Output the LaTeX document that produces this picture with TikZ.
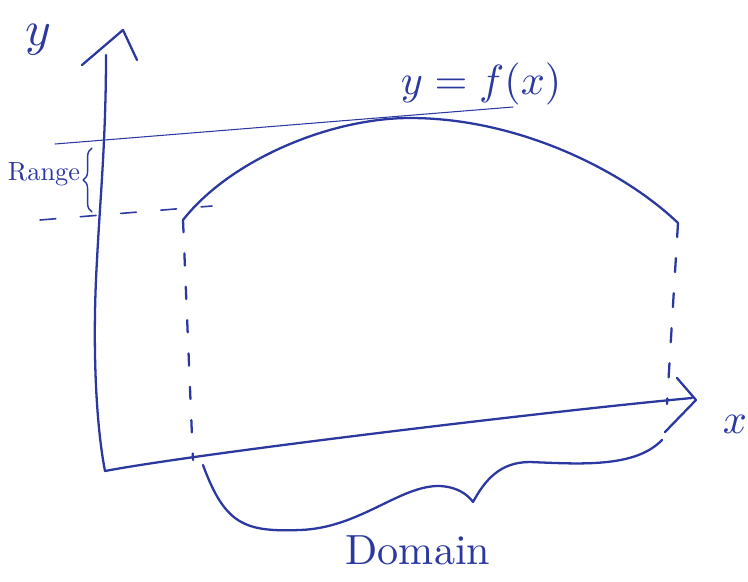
\documentclass[tikz,border=0pt]{standalone}
\usetikzlibrary{decorations.pathreplacing}
\usetikzlibrary{positioning}
\definecolor{ink}{RGB}{42,56,160}

\begin{document}
\begin{tikzpicture}[x=0.02cm,y=-0.02cm,ink,line width=1.3pt,line cap=round,line join=round]
    \useasboundingbox (0,0) rectangle (748,582);

    \node[scale=2.8] (ylab) at (38,40) {$y$};
    \node[scale=2.4] (xlab) at (735,424) {$x$};
    \node[scale=2.4] (fx) at (481,84) {$y=f(x)$};
    \node[scale=1.5] (range) at (44,174) {Range};
    \node[scale=2.4] (dom) at (418,550) {Domain};

    \coordinate (o) at (105,471);
    \coordinate (ytop) at (106,55);
    \coordinate (xend) at (692,398);
    \coordinate (a) at (183,220);
    \coordinate (peak) at (410,118);
    \coordinate (b) at (678,223);
    \coordinate (a0) at (193,460);
    \coordinate (b0) at (667,404);
    \coordinate (t1) at (55,144);
    \coordinate (t2) at (513,107);
    \coordinate (r1) at (40,220);
    \coordinate (r2) at (212,206);
    \coordinate (d1) at (203,465);
    \coordinate (d2) at (662,440);

    \draw (o) .. controls (96,425) and (92,345) .. (97,260) .. controls (100,200) and (106,140) .. (ytop);
    \draw (82,65) -- (123,30) -- (137,60);
    \draw (o) .. controls (200,453) and (560,410) .. (xend);
    \draw (677,378) -- (696,400) -- (665,432);

    \draw[line width=0.6pt] (t1) -- (t2);
    \draw[line width=0.9pt,dash pattern=on 9pt off 14pt] (r1) -- (r2);
    \draw[line width=0.8pt,decorate,decoration={brace,amplitude=5pt}] (92,212) -- (92,148);

    \draw (a) .. controls (230,160) and (330,118) .. (peak) .. controls (520,118) and (625,172) .. (b);
    \draw[dash pattern=on 7pt off 12pt] (a) -- (a0);
    \draw[dash pattern=on 8pt off 12pt] (b) -- (b0);

    \draw (d1) .. controls (225,525) and (245,532) .. (300,530)
        .. controls (360,528) and (400,485) .. (440,486)
        .. controls (458,487) and (468,495) .. (473,502)
        .. controls (485,480) and (500,462) .. (530,462)
        .. controls (580,464) and (635,468) .. (d2);
\end{tikzpicture}
\end{document}
